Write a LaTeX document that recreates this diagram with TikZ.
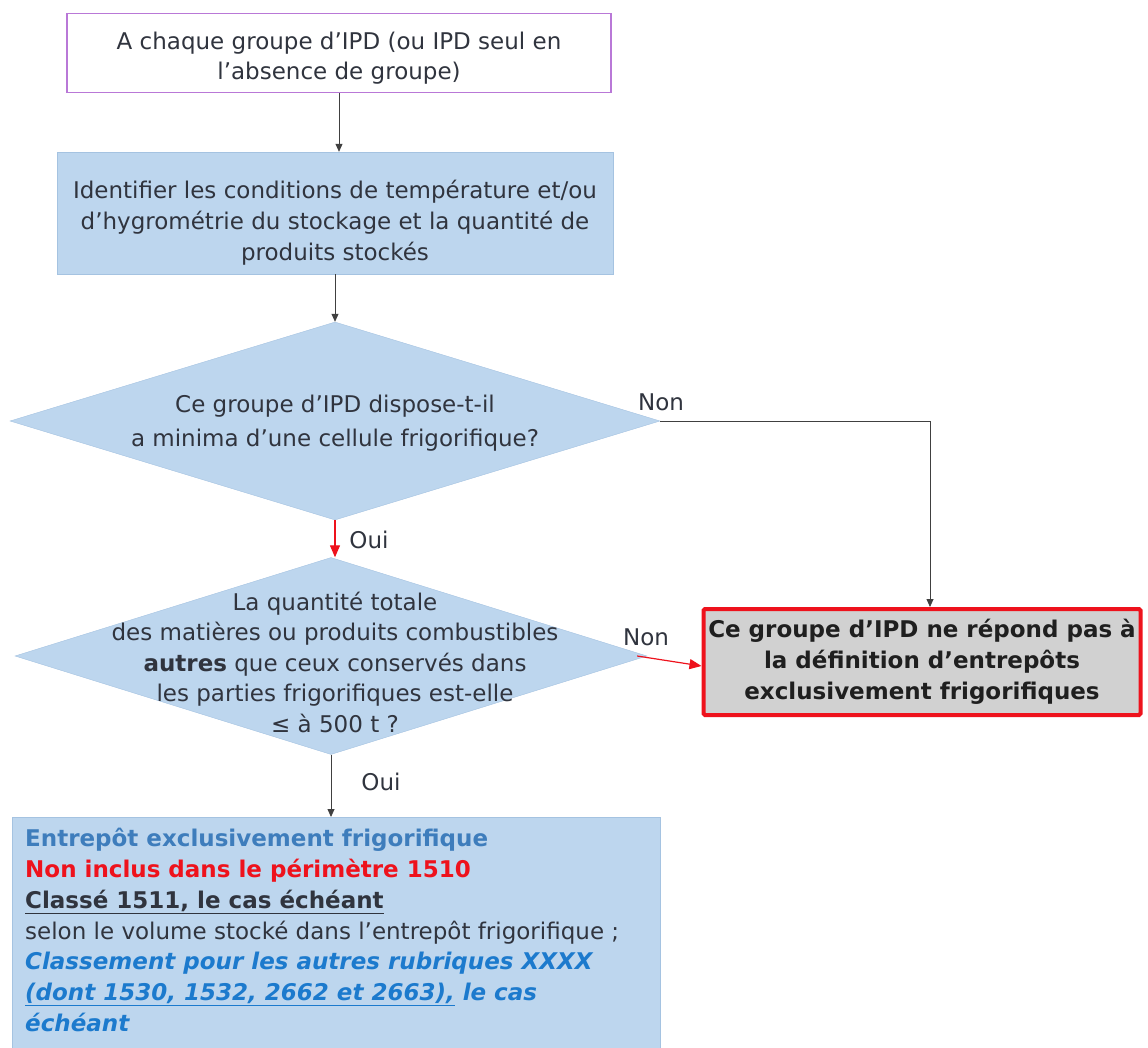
\documentclass[tikz,border=0pt]{standalone}
\usepackage{fontspec}
\setmainfont{DejaVu Sans}
\usepackage{xcolor}
\usetikzlibrary{positioning,shapes.geometric,arrows.meta}
\definecolor{boxblue}{RGB}{189,214,238}
\definecolor{edgeblue}{RGB}{165,195,225}
\definecolor{txtgray}{RGB}{48,52,62}
\definecolor{titleblue}{RGB}{62,125,188}
\definecolor{noteblue}{RGB}{28,122,205}
\definecolor{violetline}{RGB}{185,120,215}
\definecolor{alertred}{RGB}{238,18,28}
\tikzset{
    startbox/.style={
        draw=violetline,
        line width=1.2pt,
        fill=white,
        align=center,
        text=txtgray,
        font=\fontsize{23}{30}\selectfont
    },
    stepbox/.style={
        draw=edgeblue,
        fill=boxblue,
        align=center,
        text=txtgray,
        font=\fontsize{23}{31}\selectfont
    },
    decision/.style={ % requires library shapes.geometric
        diamond,
        draw=edgeblue,
        fill=boxblue,
        inner sep=0pt
    },
    qtext/.style={
        align=center,
        text=txtgray,
        font=\fontsize{23}{30.5}\selectfont
    },
    resultbox/.style={
        draw=alertred,
        line width=4pt,
        rounded corners=1.5pt,
        fill=black!18,
        align=center,
        text=black!88,
        font=\bfseries\fontsize{23}{31}\selectfont
    },
    answer/.style={
        text=txtgray,
        font=\fontsize{23}{26}\selectfont
    },
    flow/.style={
        draw=black!75,
        line width=0.8pt,
        -{Triangle[length=8pt,width=7pt]}
    },
    redflow/.style={
        draw=alertred,
        line width=1.2pt,
        -{Triangle[length=12pt,width=10pt]}
    }
}

\begin{document}
\begin{tikzpicture}[x=1pt,y=-1pt]
        \useasboundingbox (0,0) rectangle (1148,1048);
        \clip (0,0) rectangle (1148,1048);

        \node[startbox, minimum width=544pt, minimum height=79pt] (start) at (339,53)
            {\rule{0pt}{27pt}A chaque groupe d’IPD (ou IPD seul en\\l’absence de groupe)};
        \node[stepbox, minimum width=556pt, minimum height=122pt] (ident) at (335,213)
            {\rule{0pt}{37pt}Identifier les conditions de température et/ou\\d’hygrométrie du stockage et la quantité de\\produits stockés};

        \node[decision, minimum width=650pt, minimum height=198pt] (q1) at (335,421) {};
        \node[qtext, font=\fontsize{23}{34}\selectfont] (q1txt) at (335,423)
            {Ce groupe d’IPD dispose-t-il\\a minima d’une cellule frigorifique?};

        \node[decision, minimum width=632pt, minimum height=197pt] (q2) at (331,656) {};
        \node[qtext] (q2txt) at (335,662)
            {La quantité totale\\des matières ou produits combustibles\\\textbf{autres} que ceux conservés dans\\les parties frigorifiques est-elle\\≤ à 500 t ?};

        \node[resultbox, minimum width=437pt, minimum height=106pt] (nonfrigo) at (922,662)
            {Ce groupe d’IPD ne répond pas à\\la définition d’entrepôts\\exclusivement frigorifiques};

        \node[stepbox, anchor=north west, minimum width=648pt, minimum height=250pt] (frigo) at (12,817) {};
        \node[anchor=north west, align=left, inner sep=0pt, text=txtgray,
              font=\fontsize{23}{30.8}\selectfont] (frigotxt) at (25,828)
            {\textcolor{titleblue}{\bfseries Entrepôt exclusivement frigorifique}\\
             \textcolor{alertred}{\bfseries Non inclus dans le périmètre 1510}\\
             {\bfseries\underline{Classé 1511, le cas échéant}}\\
             selon le volume stocké dans l’entrepôt frigorifique ;\\
             \textcolor{noteblue}{\bfseries\itshape Classement pour les autres rubriques XXXX}\\
             \textcolor{noteblue}{\bfseries\itshape \underline{(dont 1530, 1532, 2662 et 2663),} le cas}\\
             \textcolor{noteblue}{\bfseries\itshape échéant}};

        \node[answer] (non1) at (661,402) {Non};
        \node[answer] (oui1) at (369,540) {Oui};
        \node[answer] (non2) at (646,637) {Non};
        \node[answer] (oui2) at (381,782) {Oui};

        \draw[flow] (start.south) -- (start.south |- ident.north);
        \draw[flow] (ident.south) -- (ident.south |- q1.north);
        \draw[redflow] (q1.south) -- (q1.south |- q2.north);
        \draw[flow] (q1.east) -| ([xshift=8pt]nonfrigo.north);
        \draw[redflow] ([xshift=-10pt]q2.east) -- ([yshift=-4pt]nonfrigo.west);
        \draw[flow] (q2.south) -- (q2.south |- frigo.north);
    \end{tikzpicture}
\end{document}
